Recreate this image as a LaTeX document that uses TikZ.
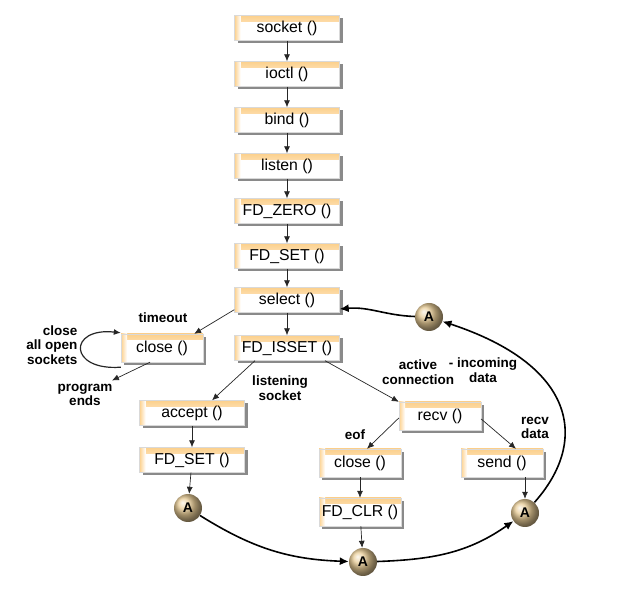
\documentclass[tikz,border=0pt]{standalone}
\usepackage{fontspec}
\setmainfont{Liberation Sans}
\usetikzlibrary{arrows.meta,shadows}

\definecolor{balltan}{RGB}{232,204,150}
\definecolor{boxorange}{RGB}{252,208,140}

\tikzset{
  fnbox/.style={draw=gray!30, fill=white, minimum width=105, minimum height=25,
    inner sep=0, font=\fontsize{15.8}{17}\selectfont,
    drop shadow={shadow xshift=3pt, shadow yshift=-3pt, fill=black!65, opacity=.7},
    path picture={
      \shade[top color=boxorange, bottom color=white]
        (path picture bounding box.north west) rectangle ([yshift=-6pt]path picture bounding box.north east);
      \shade[left color=boxorange, right color=white]
        (path picture bounding box.north west) rectangle ([xshift=6pt]path picture bounding box.south west);
    }},
  smallbox/.style={fnbox, minimum width=82, minimum height=28},
  abtn/.style={circle, shading=ball, ball color=balltan, minimum size=28, inner sep=0,
    font=\fontsize{14}{16}\selectfont\bfseries},
  lbl/.style={align=center, font=\fontsize{13.5}{14.5}\selectfont\bfseries},
  arr/.style={-{Latex[length=7pt,width=6pt]}, line width=0.7pt, black!85},
  bigarr/.style={-{Latex[length=9pt,width=8pt]}, line width=1.6pt}
}

\begin{document}
\begin{tikzpicture}[x=1pt, y=1pt]
          \useasboundingbox (0,0) rectangle (625,590);

          % Main column of calls
          \node[fnbox] (socket) at (287, 562) {socket ()};
          \node[fnbox] (ioctl) at (287, 516) {ioctl ()};
          \node[fnbox] (bind) at (287, 470) {bind ()};
          \node[fnbox] (listen) at (287, 424) {listen ()};
          \node[fnbox] (fdzero) at (287, 379) {FD\_ZERO ()};
          \node[fnbox] (fdset) at (287, 334) {FD\_SET ()};
          \node[fnbox] (select) at (287, 290) {select ()};
          \node[fnbox] (isset) at (287, 242) {FD\_ISSET ()};

          % Branches
          \node[smallbox] (closeA) at (162, 242) {close ()};
          \node[fnbox] (accept) at (192, 177) {accept ()};
          \node[fnbox] (fdsetB) at (192, 130) {FD\_SET ()};
          \node[smallbox] (recv) at (440, 174) {recv ()};
          \node[smallbox] (closeB) at (360, 127) {close ()};
          \node[smallbox] (fdclr) at (360, 78) {FD\_CLR ()};
          \node[smallbox] (send) at (502, 127) {send ()};

          % Connectors (A)
          \node[abtn] (aleft) at (188, 82) {A};
          \node[abtn] (abot) at (363, 28) {A};
          \node[abtn] (aright) at (525, 77) {A};
          \node[abtn] (atop) at (429, 273) {A};

          % Labels
          \node[lbl] (timeout) at (163, 272) {timeout};
          \node[lbl, align=right, anchor=east] (closeall) at (81, 245) {close\\all open\\sockets};
          \node[lbl] (progends) at (85, 195) {program\\ends};
          \node[lbl] (listening) at (280, 202) {listening\\socket};
          \node[lbl] (active) at (418, 218) {active\\connection};
          \node[lbl] (incoming) at (483, 220) {- incoming\\data};
          \node[lbl] (eof) at (355, 155) {eof};
          \node[lbl] (recvdata) at (535, 162) {recv\\data};

          % Directed edges
          \draw [arr] (socket) -- (ioctl);
          \draw [arr] (ioctl) -- (bind);
          \draw [arr] (bind) -- (listen);
          \draw [arr] (listen) -- (fdzero);
          \draw [arr] (fdzero) -- (fdset);
          \draw [arr] (fdset) -- (select);
          \draw [arr] (select) -- (isset);
          \draw [arr] ([yshift=3]select.south west) -- ([xshift=-9]closeA.north east);
          \draw [arr] ([xshift=-12]closeA.south) -- ([xshift=-4]progends.north east);
          \draw [arr, line width=1.2pt] ([yshift=-5]closeA.south west) .. controls (68,219) and (68,263) .. ([yshift=1]closeA.north west);
          \draw [arr] ([xshift=-32]isset.south) -- ([xshift=20]accept.north);
          \draw [arr] ([xshift=38]isset.south) -- (recv.north west);
          \draw [arr] (accept) -- (fdsetB);
          \draw [arr] (fdsetB) -- (aleft);
          \draw [arr] ([yshift=-2]recv.west) -- ([xshift=7]closeB.north);
          \draw [arr] ([yshift=-3]recv.east) -- ([xshift=14]send.north);
          \draw [arr] (closeB) -- (fdclr);
          \draw [arr] (fdclr) -- (abot);
          \draw [arr] (send.south -| aright) -- (aright);

          % Loop back to select
          \draw [bigarr] (aleft) to[out=-32, in=178] (abot);
          \draw [bigarr] (abot) to[out=2, in=-145] (aright);
          \draw [bigarr] (aright) .. controls (590,150) and (575,225) .. (atop);
          \draw [bigarr] (atop) to[out=178, in=5] ([yshift=-9]select.east);
        \end{tikzpicture}
\end{document}
